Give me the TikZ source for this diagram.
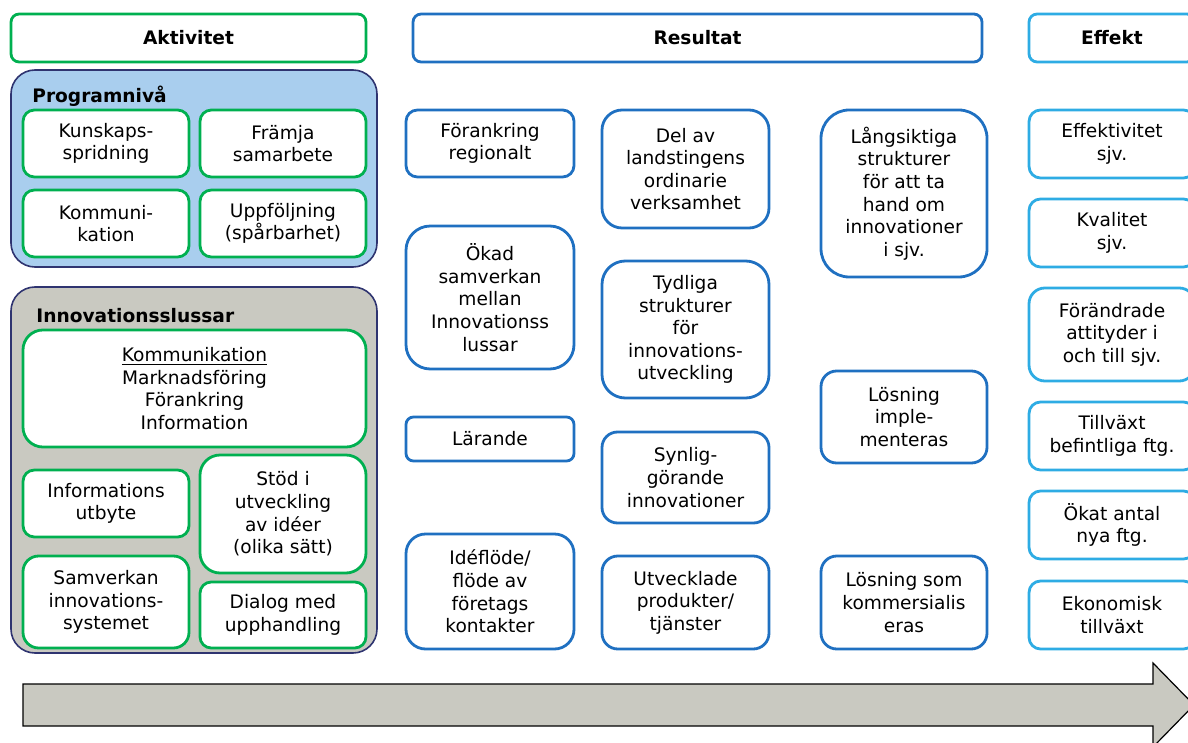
\documentclass[tikz,border=0pt]{standalone}
\usepackage{fontspec}
\setmainfont{DejaVu Sans}
\usepackage{tikz}
\definecolor{aktgreen}{RGB}{0,176,80}
\definecolor{resblue}{RGB}{31,112,193}
\definecolor{effblue}{RGB}{46,172,228}
\definecolor{panelline}{RGB}{47,52,112}
\definecolor{progfill}{RGB}{169,206,238}
\definecolor{innofill}{RGB}{201,201,193}
\begin{document}
\begin{tikzpicture}[x=0.5pt,y=-0.5pt,
  font=\fontsize{9.3}{11.3}\selectfont,
  box/.style 2 args={draw,fill=white,line width=1.4pt,align=center,inner sep=0pt,
    minimum width=#1*0.5pt,minimum height=#2*0.5pt,rounded corners={min(#1,#2)*0.085pt}},
  akt/.style={draw=aktgreen},
  res/.style={draw=resblue},
  eff/.style={draw=effblue},
  panel/.style 2 args={draw=panelline,line width=0.8pt,inner sep=0pt,
    minimum width=#1*0.5pt,minimum height=#2*0.5pt,rounded corners=12pt},
  head/.style={font=\fontsize{9.3}{11.3}\selectfont\bfseries}]
\useasboundingbox (0,0) rectangle (1188,743);

\node[box={355}{48},akt,head] (aktivitet) at (188.5,38) {Aktivitet};
\node[box={569}{48},res,head] (resultat) at (697.5,38) {Resultat};
\node[box={166}{48},eff,head] (effekt) at (1112,38) {Effekt};

\node[panel={366}{197},fill=progfill] (prog) at (194,168.5) {};
\node[head,anchor=west,inner sep=0pt] (progtitle) at (32,96) {Programnivå};
\node[box={166}{67},akt] (kunskap) at (106,143.5) {Kunskaps-\\spridning};
\node[box={166}{67},akt] (framja) at (283,143.5) {Främja\\samarbete};
\node[box={166}{67},akt] (kommuni) at (106,223.5) {Kommuni-\\kation};
\node[box={166}{67},akt] (uppfolj) at (283,223.5) {Uppföljning\\(spårbarhet)};

\node[panel={366}{366},fill=innofill] (inno) at (194,470) {};
\node[head,anchor=west,inner sep=0pt] (innotitle) at (36,316) {Innovationsslussar};
\node[box={343}{117},akt] (kommunik) at (194.5,388.5) {\underline{Kommunikation}\\Marknadsföring\\Förankring\\Information};
\node[box={166}{67},akt] (infout) at (106,503.5) {Informations\\utbyte};
\node[box={166}{118},akt] (stod) at (283,514) {Stöd i\\utveckling\\av idéer\\(olika sätt)};
\node[box={166}{92},akt] (samverk) at (106,602) {Samverkan\\innovations-\\systemet};
\node[box={166}{66},akt] (dialog) at (283,615) {Dialog med\\upphandling};

\node[box={168}{67},res] (forank) at (490,143.5) {Förankring\\regionalt};
\node[box={168}{143},res] (okad) at (490,297.5) {Ökad\\samverkan\\mellan\\Innovationss\\lussar};
\node[box={168}{44},res] (larande) at (490,439) {Lärande};
\node[box={168}{115},res] (ideflode) at (490,591.5) {Idéflöde/\\flöde av\\företags\\kontakter};

\node[box={167}{118},res] (delav) at (685.5,169) {Del av\\landstingens\\ordinarie\\verksamhet};
\node[box={167}{137},res] (tydliga) at (685.5,329.5) {Tydliga\\strukturer\\för\\innovations-\\utveckling};
\node[box={167}{91},res] (synlig) at (685.5,477.5) {Synlig-\\görande\\innovationer};
\node[box={167}{93},res] (utveckl) at (685.5,602.5) {Utvecklade\\produkter/\\tjänster};

\node[box={166}{167},res] (langsikt) at (904,193.5) {Långsiktiga\\strukturer\\för att ta\\hand om\\innovationer\\i sjv.};
\node[box={166}{92},res] (losimpl) at (904,417) {Lösning\\imple-\\menteras};
\node[box={166}{93},res] (loskomm) at (904,602.5) {Lösning som\\kommersialis\\eras};

\node[box={166}{68},eff] (effektiv) at (1112,144) {Effektivitet\\sjv.};
\node[box={166}{68},eff] (kvalitet) at (1112,233) {Kvalitet\\sjv.};
\node[box={166}{93},eff] (forandr) at (1112,334.5) {Förändrade\\attityder i\\och till sjv.};
\node[box={166}{68},eff] (tillvaxt) at (1112,436) {Tillväxt\\befintliga ftg.};
\node[box={166}{68},eff] (okat) at (1112,525) {Ökat antal\\nya ftg.};
\node[box={166}{68},eff] (ekonom) at (1112,615) {Ekonomisk\\tillväxt};

\draw[fill=innofill,line width=0.6pt] (23,684) -- (1153,684) -- (1153,663) -- (1194,705)
  -- (1153,747) -- (1153,726) -- (23,726) -- cycle;
\end{tikzpicture}
\end{document}
